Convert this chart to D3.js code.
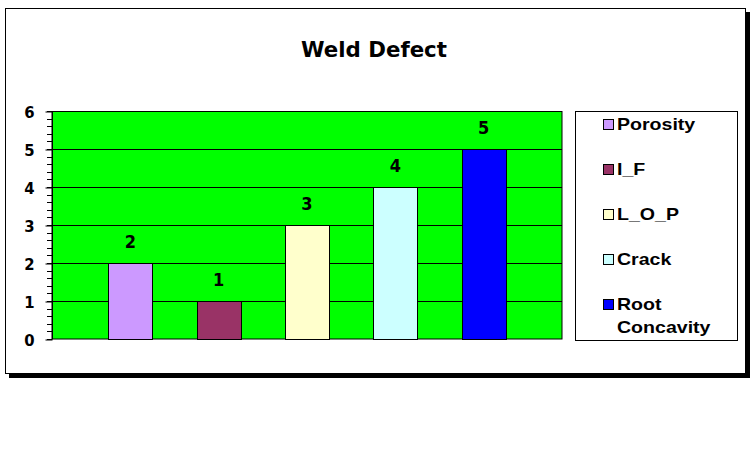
<!DOCTYPE html>
<html><head><meta charset="utf-8">
<script src="https://cdn.jsdelivr.net/npm/d3@7"></script>
<style>body{margin:0;background:#fff}</style>
</head><body><svg id="c" width="752" height="458"></svg>
<script>
const chartTitle = "Weld Defect";
const series = ["Porosity", "I_F", "L_O_P", "Crack", "Root Concavity"];
const values = [2, 1, 3, 4, 5];
const colors = ["#CC99FF", "#993366", "#FFFFCC", "#CCFFFF", "#0000FF"];
const yTicks = [0, 1, 2, 3, 4, 5, 6];

const svg = d3.select("#c");
const numFont = "'DejaVu Sans Condensed','DejaVu Sans',sans-serif";
const legFont = "'Liberation Sans',Arial,sans-serif";

// frame with shadow
svg.append("rect").attr("x", 9).attr("y", 12).attr("width", 741).attr("height", 366).attr("fill", "#000");
svg.append("rect").attr("x", 5.5).attr("y", 8.5).attr("width", 740).attr("height", 365)
  .attr("fill", "#fff").attr("stroke", "#000").attr("stroke-width", 1);

// title
const t = svg.append("text").attr("x", 0).attr("y", 0)
  .attr("text-anchor", "middle").attr("font-family", numFont).attr("font-weight", "bold")
  .attr("font-size", 21.5).attr("fill", "#000").text(chartTitle);
const tw = t.node().getComputedTextLength();
t.attr("transform", `translate(374,57) scale(${146 / tw},1)`);

const plot = {x0: 52, x1: 562, y0: 111, y1: 339};
const y = d3.scaleLinear().domain([0, 6]).range([plot.y1, plot.y0]);
const x = d3.scaleBand().domain(series).range([plot.x0, plot.x1]).paddingInner(0.5).paddingOuter(0.638);

// plot area
svg.append("rect").attr("x", plot.x0).attr("y", plot.y0 + 0.5)
  .attr("width", plot.x1 - plot.x0).attr("height", plot.y1 - plot.y0 - 0.5)
  .attr("fill", "#00FF00").attr("stroke", "#000").attr("stroke-width", 1);

// gridlines
svg.append("g").selectAll("line").data(yTicks.filter(d => d > 0)).join("line")
  .attr("x1", plot.x0).attr("x2", plot.x1)
  .attr("y1", d => Math.round(y(d)) + 0.5).attr("y2", d => Math.round(y(d)) + 0.5)
  .attr("stroke", "#000").attr("stroke-width", 1);

// minor ticks
const minor = d3.range(0, 6.0001, 0.2);
svg.append("g").selectAll("line").data(minor).join("line")
  .attr("x1", plot.x0 - 5).attr("x2", plot.x0)
  .attr("y1", d => Math.round(y(d)) + 0.5).attr("y2", d => Math.round(y(d)) + 0.5)
  .attr("stroke", "#000").attr("stroke-width", 1);

// y axis
const ax = svg.append("g").attr("transform", `translate(${plot.x0 + 0.5},0.5)`)
  .call(d3.axisLeft(y).tickValues(yTicks).tickFormat(d3.format("d")).tickSize(7).tickPadding(11));
ax.select(".domain").attr("stroke", "#000").attr("d", `M0,${plot.y0}V${plot.y1}`);
ax.selectAll(".tick line").attr("stroke", "#000");
ax.selectAll(".tick text").attr("font-family", numFont).attr("font-weight", "bold")
  .attr("font-size", 16.5).attr("fill", "#000").attr("dy", "0.36em");

// bars
svg.append("g").selectAll("rect").data(series).join("rect")
  .attr("x", d => Math.round(x(d)) + 0.5)
  .attr("y", (d, i) => Math.round(y(values[i])) + 0.5)
  .attr("width", Math.round(x.bandwidth()))
  .attr("height", (d, i) => Math.round(y(0)) - Math.round(y(values[i])))
  .attr("fill", (d, i) => colors[i]).attr("stroke", "#000").attr("stroke-width", 1);

// value labels
svg.append("g").selectAll("text").data(series).join("text")
  .attr("x", d => x(d) + x.bandwidth() / 2)
  .attr("y", (d, i) => y(values[i]) - 15)
  .attr("text-anchor", "middle").attr("font-family", numFont).attr("font-weight", "bold")
  .attr("font-size", 18).attr("fill", "#000")
  .text((d, i) => values[i]);

// legend
svg.append("rect").attr("x", 575.5).attr("y", 111.5).attr("width", 162).attr("height", 229)
  .attr("fill", "#fff").attr("stroke", "#000").attr("stroke-width", 1);
const lg = svg.append("g").selectAll("g").data(series).join("g")
  .attr("transform", (d, i) => `translate(0,${124 + i * 45})`);
lg.append("rect").attr("x", 603.5).attr("y", -4.5).attr("width", 10).attr("height", 10)
  .attr("fill", (d, i) => colors[i]).attr("stroke", "#000").attr("stroke-width", 1);
lg.each(function (d) {
  const words = d.split(" ");
  const g = d3.select(this);
  words.forEach((w, k) => {
    g.append("text")
      .attr("transform", `translate(617,${6 + k * 22.7}) scale(1.2,1)`)
      .attr("font-family", legFont).attr("font-weight", "bold")
      .attr("font-size", 16.3).attr("fill", "#000").text(w);
  });
});
</script></body></html>
